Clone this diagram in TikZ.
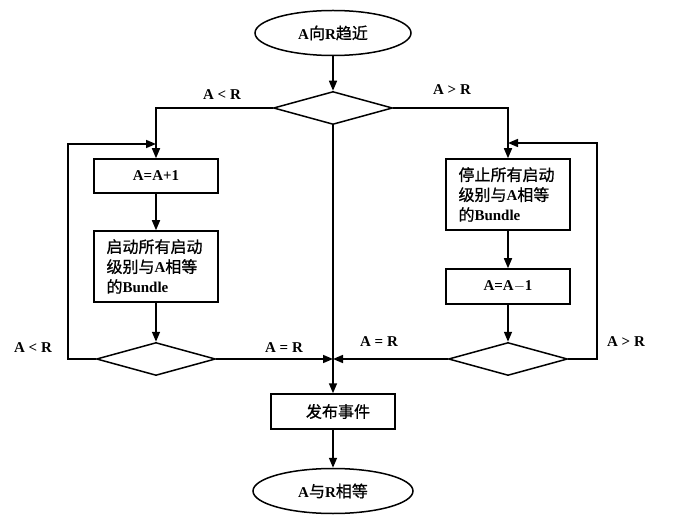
\documentclass[tikz,border=0pt]{standalone}
\usepackage{fontspec}
\setmainfont{Liberation Serif}
\newfontfamily\cjk[FakeBold=0.8]{Noto Sans CJK SC}
\usetikzlibrary{arrows.meta,shapes.geometric}
\newcommand{\zh}[1]{{\cjk\mdseries\fontsize{16pt}{20pt}\selectfont #1}}
\begin{document}
\begin{tikzpicture}[x=1pt,y=-1pt,
  every node/.style={font=\bfseries\fontsize{15pt}{20pt}\selectfont},
  term/.style={draw,ellipse,line width=1.5pt,minimum width=#1,minimum height=45pt,inner sep=0pt},
  proc/.style={draw,rectangle,line width=1.5pt,minimum width=124pt,inner sep=0pt},
  dec/.style={draw,diamond,line width=1.5pt,minimum width=119pt,minimum height=33pt,inner sep=0pt,aspect=3.6},
  lbl/.style={inner sep=0pt},
  con/.style={line width=1.5pt,-{Triangle[length=10pt,width=8pt]}}]
\useasboundingbox (0,0) rectangle (685,521);
% top
\node[term=156pt] (start) at (333,33) {A\zh{向}R\zh{趋近}};
\node[dec] (d0) at (333,108) {};
% left column
\node[proc,minimum height=34pt] (inc) at (156,176) {A=A+1};
\node[proc,minimum height=71pt,align=left,text width=99pt] (startb) at (156,266.5) {\zh{启动所有启动}\\\zh{级别与}A\zh{相等}\\\zh{的}Bundle};
\node[dec] (dl) at (156,359) {};
% right column
\node[proc,minimum height=71pt,align=left,text width=99pt] (stopb) at (508,194.5) {\zh{停止所有启动}\\\zh{级别与}A\zh{相等}\\\zh{的}Bundle};
\node[proc,minimum height=35pt] (dec1) at (508,286.5) {A=A$-$1};
\node[dec] (dr) at (508,359) {};
% bottom
\node[proc,minimum height=35pt] (pub) at (333,411.5) {\hspace{10pt}\zh{发布事件}};
\node[term=160pt] (endn) at (333,491) {A\zh{与}R\zh{相等}};
% helper coordinates
\coordinate (tl) at (156,108);
\coordinate (tr) at (508,108);
\coordinate (ml) at (333,359);
\coordinate (lj) at (156,144);
\coordinate (rj) at (508,143);
\coordinate (lc1) at (68,359);
\coordinate (lc2) at (68,144);
\coordinate (rc1) at (597,359);
\coordinate (rc2) at (597,143);
% connectors
\draw[con] (start) -- (d0);
\draw[con] (d0.west) -- (tl) -- (inc.north);
\draw[con] (d0.east) -- (tr) -- (stopb.north);
\draw[con] (d0.south) -- (pub.north);
\draw[con] (inc) -- (startb);
\draw[con] (startb) -- (dl);
\draw[con] (stopb) -- (dec1);
\draw[con] (dec1) -- (dr);
\draw[con] (dl.west) -- (lc1) -- (lc2) -- (lj);
\draw[con] (dr.east) -- (rc1) -- (rc2) -- (rj);
\draw[con] (dl.east) -- (ml);
\draw[con] (dr.west) -- (ml);
\draw[con] (pub) -- (endn);
% labels
\node[lbl] at (222,95) {A < R};
\node[lbl] at (452,90) {A > R};
\node[lbl] at (33,348) {A < R};
\node[lbl] at (284,348) {A = R};
\node[lbl] at (379,342) {A = R};
\node[lbl] at (626,342) {A > R};
\end{tikzpicture}
\end{document}
